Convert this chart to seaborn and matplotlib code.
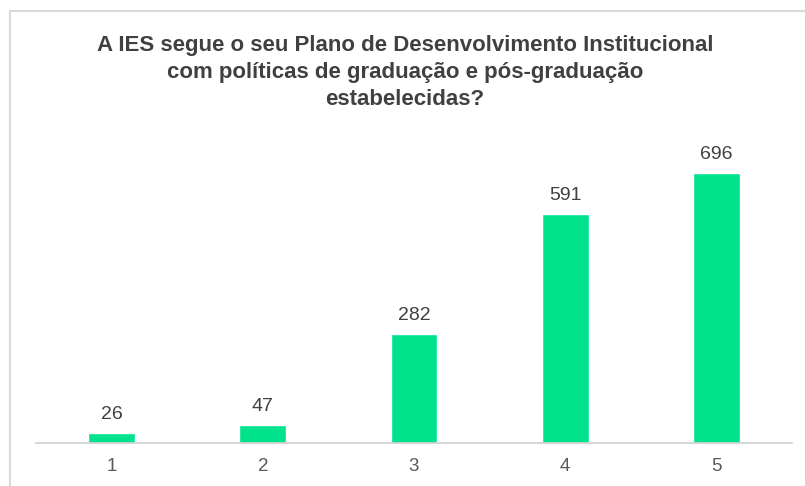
import matplotlib
matplotlib.use("Agg")
import matplotlib.pyplot as plt
import seaborn as sns
import pandas as pd
from matplotlib.patches import Rectangle

categories = ["1", "2", "3", "4", "5"]
values = [26, 47, 282, 591, 696]
title = "A IES segue o seu Plano de Desenvolvimento Institucional\ncom políticas de graduação e pós-graduação\nestabelecidas?"

sns.set_theme(style="white")
plt.rcParams['font.family'] = ['Liberation Sans', 'DejaVu Sans']

df = pd.DataFrame({"cat": categories, "val": values})

fig = plt.figure(figsize=(8.05, 4.86), dpi=100)
W, H = 805, 486
ax_left, ax_right = 36, 792
ax_bottom, ax_top = 443, 130
ax = fig.add_axes([ax_left / W, 1 - ax_bottom / H, (ax_right - ax_left) / W, (ax_bottom - ax_top) / H])

sns.barplot(data=df, x="cat", y="val", color="#00e38c", width=0.31, saturation=1, ax=ax)
ax.set_ylim(0, (ax_bottom - ax_top) / 0.388)
ax.set_xlim(-0.5, 4.5)

for i, v in enumerate(values):
    ax.annotate(str(v), (i, v), xytext=(0, 7), textcoords="offset points",
                ha="center", va="bottom", fontsize=14, color="#404040")

for s in ["top", "right", "left"]:
    ax.spines[s].set_visible(False)
ax.spines["bottom"].set_color("#d0d0d0")
ax.spines["bottom"].set_linewidth(1.2)
ax.set_yticks([])
ax.set_xlabel("")
ax.set_ylabel("")
ax.tick_params(axis="x", length=0, labelsize=13.5, labelcolor="#595959", pad=11)

fig.text(405 / W, 1 - 35 / H, title, ha="center", va="top", fontsize=16,
         fontweight="bold", color="#404040", linespacing=1.38)

fig.patches.append(Rectangle((10 / W, -0.1), 1.2, 1 - 11 / H + 0.1, transform=fig.transFigure,
                             fill=False, edgecolor="#d9d9d9", linewidth=1.5, figure=fig))

fig.savefig("out.png", dpi=100, facecolor="white")
